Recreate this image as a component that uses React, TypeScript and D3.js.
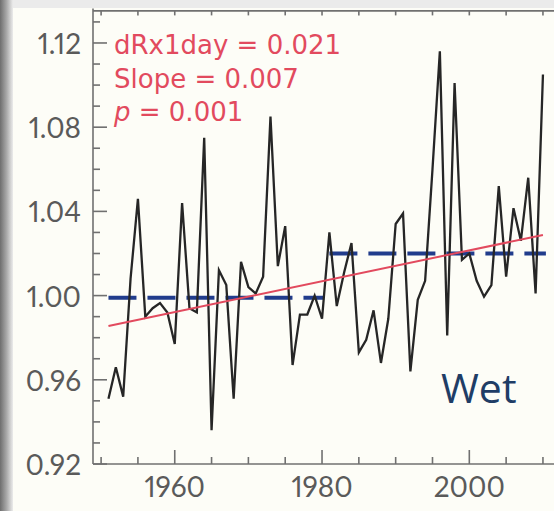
import React from "react";
import * as d3 from "d3";

// Annual dRx1day index, 1951–2010
const years: number[] = d3.range(1951, 2011);
const values: number[] = [
  0.951, 0.966, 0.952, 1.008, 1.046, 0.99, 0.994, 0.9965, 0.992, 0.977,
  1.044, 0.994, 0.992, 1.075, 0.936, 1.012, 1.005, 0.951, 1.016, 1.004,
  1.001, 1.009, 1.085, 1.014, 1.033, 0.967, 0.991, 0.991, 1.0, 0.989,
  1.03, 0.995, 1.011, 1.025, 0.973, 0.979, 0.993, 0.968, 0.989, 1.034,
  1.039, 0.964, 0.998, 1.007, 1.06, 1.116, 0.981, 1.101, 1.017, 1.02,
  1.007, 0.9995, 1.005, 1.052, 1.009, 1.0415, 1.026, 1.056, 1.001, 1.105,
];

// Period means (dashed) and linear trend
const periodStarts: number[] = [1951, 1981];
const periodEnds: number[] = [1980.3, 2010.4];
const periodMeans: number[] = [0.999, 1.02];
const trendYears: number[] = [1951, 2010];
const trendValues: number[] = [0.9856, 1.0288];

const yTickValues: number[] = [0.92, 0.96, 1.0, 1.04, 1.08, 1.12];
const yTickLabels: string[] = ["0.92", "0.96", "1.00", "1.04", "1.08", "1.12"];
const xTickValues: number[] = [1960, 1980, 2000];
const xTickLabels: string[] = ["1960", "1980", "2000"];

const statLabels: string[] = ["dRx1day = 0.021", "Slope = 0.007"];
const pValue = "0.001";
const regionLabel = "Wet";

const W = 554;
const H = 511;

export default function App() {
  const x = d3.scaleLinear().domain([1948.9, 2011.5]).range([93, 554]);
  const y = d3.scaleLinear().domain([0.92, 1.135]).range([464, 11.4]);

  const line = d3
    .line<number>()
    .x((_, i) => x(years[i]))
    .y((d) => y(d));

  const minorY = d3.range(0.92, 1.1351, 0.01).map((v) => Math.round(v * 100) / 100);
  const minorX = d3.range(1950, 2011, 5);
  const topX = d3.range(1950, 2011, 5);

  const axisColor = "#707070";
  const labelColor = "#5a5a5a";
  const red = "#e24a5e";
  const tickFont = "Lato, 'Noto Sans', sans-serif";
  const statFont = "'DejaVu Sans', sans-serif";

  const x0 = x.range()[0];
  const yTop = y.range()[1];
  const yBot = y.range()[0];

  return (
    <svg
      width={W}
      height={H}
      viewBox={`0 0 ${W} ${H}`}
      style={{ position: "fixed", left: 0, top: 0, display: "block" }}
    >
      <defs>
        <linearGradient id="edge" x1="0" x2="1" y1="0" y2="0">
          <stop offset="0" stopColor="#6e6e6e" />
          <stop offset="0.5" stopColor="#a8a8a8" />
          <stop offset="1" stopColor="#ececec" />
        </linearGradient>
      </defs>
      <rect x={0} y={0} width={W} height={H} fill="#fdfdf7" />
      <rect x={0} y={0} width={W} height={8} fill="#ebebeb" />
      <rect x={0} y={0} width={13} height={H} fill="url(#edge)" />

      {/* frame: left axis, bottom axis, top edge */}
      <g stroke={axisColor} strokeWidth={1.6} fill="none">
        <line x1={x0} x2={x0} y1={yTop - 3} y2={yBot} />
        <line x1={x0} x2={W} y1={yBot} y2={yBot} />
        <line x1={x0} x2={W} y1={yTop - 0.5} y2={yTop - 0.5} />
        {minorY.map((v) => {
          const major = yTickValues.some((t) => Math.abs(t - v) < 1e-6);
          return (
            <line key={"yt" + v} x1={x0} x2={x0 + (major ? 14 : 7)} y1={y(v)} y2={y(v)} />
          );
        })}
        {minorX.map((v) => {
          const major = xTickValues.includes(v);
          return (
            <line key={"xt" + v} x1={x(v)} x2={x(v)} y1={yBot} y2={yBot - (major ? 14 : 7)} />
          );
        })}
        {topX.map((v) => (
          <line key={"tt" + v} x1={x(v)} x2={x(v)} y1={yTop - 0.5} y2={yTop + 4} />
        ))}
      </g>

      {/* tick labels */}
      <g
        fontFamily={tickFont}
        fontSize={28}
        fill={labelColor}
        style={{ fontVariantNumeric: "proportional-nums" }}
      >
        {yTickValues.map((v, i) => (
          <text key={"yl" + v} x={81} y={y(v)} textAnchor="end" dominantBaseline="central">
            {yTickLabels[i]}
          </text>
        ))}
        {xTickValues.map((v, i) => (
          <text key={"xl" + v} x={x(v)} y={497} textAnchor="middle">
            {xTickLabels[i]}
          </text>
        ))}
      </g>

      {/* period means */}
      <g stroke="#213c8c" strokeWidth={4} strokeDasharray="28 11" fill="none">
        {periodMeans.map((m, i) => (
          <line
            key={"pm" + i}
            x1={x(periodStarts[i])}
            x2={x(periodEnds[i])}
            y1={y(m)}
            y2={y(m)}
          />
        ))}
      </g>

      {/* index series */}
      <path d={line(values) ?? ""} fill="none" stroke="#262626" strokeWidth={2.3} strokeLinejoin="miter" />

      {/* linear trend */}
      <line
        x1={x(trendYears[0])}
        x2={x(trendYears[1])}
        y1={y(trendValues[0])}
        y2={y(trendValues[1])}
        stroke={red}
        strokeWidth={2}
      />

      {/* statistics */}
      <g fontFamily={statFont} fontSize={26} fill={red}>
        <text x={114} y={54}>{statLabels[0]}</text>
        <text x={114} y={88}>{statLabels[1]}</text>
        <text x={114} y={121}>
          <tspan fontStyle="italic">p</tspan>
          {" = " + pValue}
        </text>
      </g>

      <text x={441} y={403} fontFamily="'Open Sans', sans-serif" fontSize={41} fill="#1f3d66">
        {regionLabel}
      </text>
    </svg>
  );
}
